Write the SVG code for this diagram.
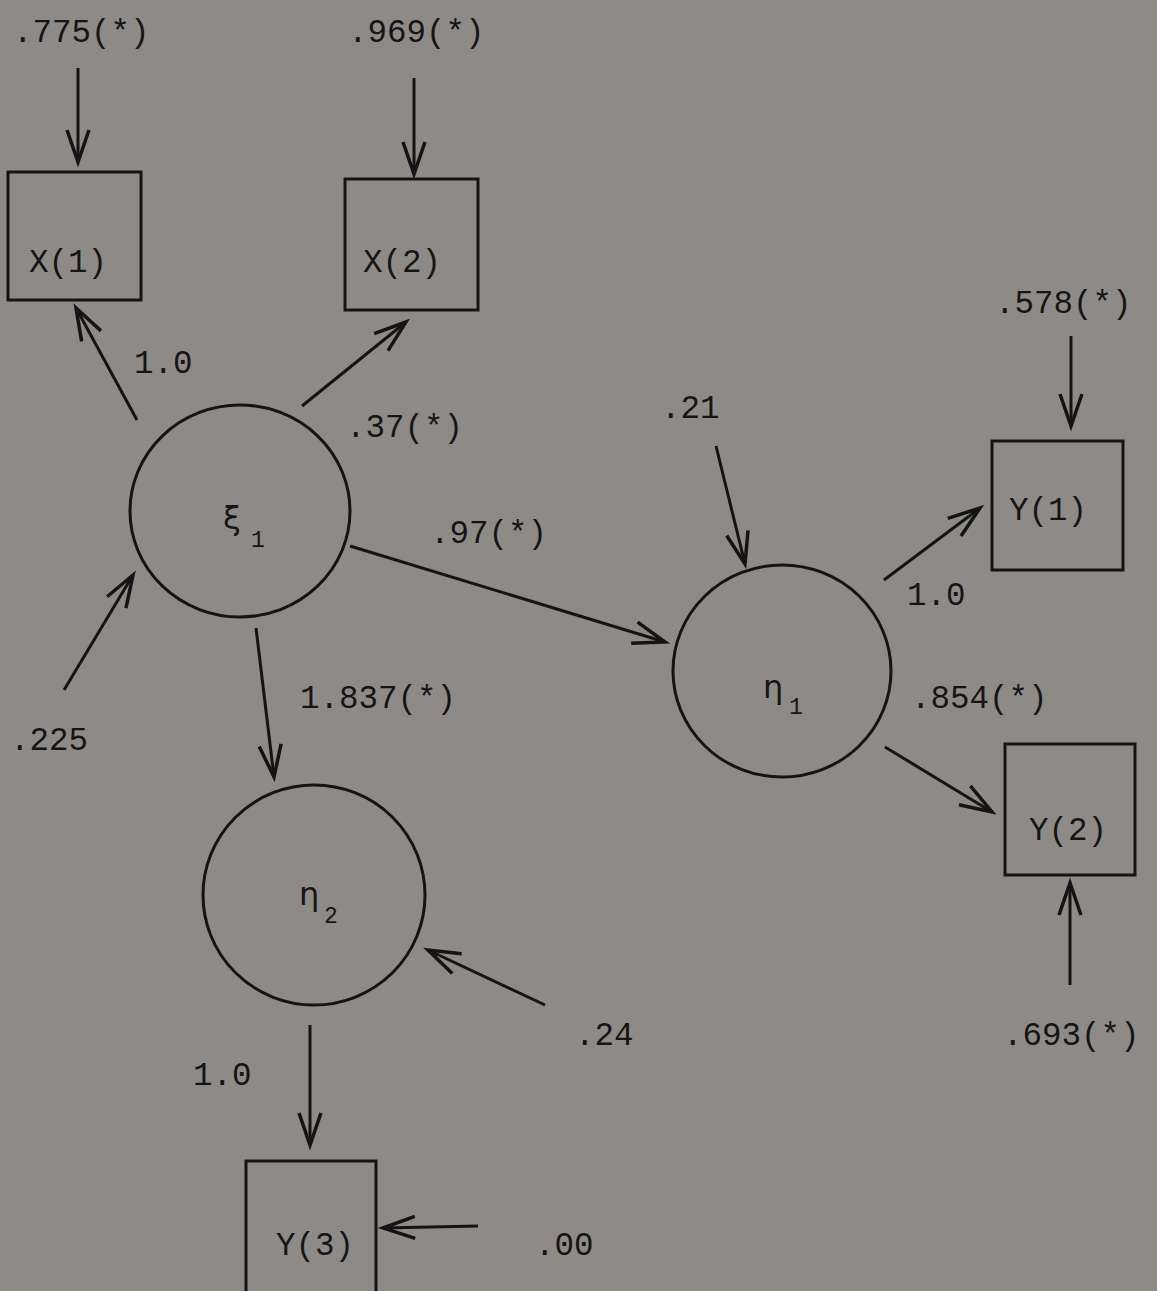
<svg xmlns="http://www.w3.org/2000/svg" width="1157" height="1291" viewBox="0 0 1157 1291">
<style>
.bg{fill:#8e8b86}
.node{fill:none;stroke:#141414;stroke-width:3}
.lbl{font-family:"Liberation Mono",monospace;font-size:32.5px;fill:#151515}
.gk{font-family:"DejaVu Sans",sans-serif;font-size:32px;fill:#151515}
.sub{font-family:"Liberation Mono",monospace;font-size:23px;fill:#151515}
.edge{fill:none;stroke:#141414;stroke-width:3;marker-end:url(#ah)}
</style>
<defs>
<marker id="ah" markerUnits="userSpaceOnUse" markerWidth="40" markerHeight="30" refX="0" refY="0" viewBox="-34 -15 40 30" orient="auto" overflow="visible">
<path d="M-32,-11 L0,0 L-32,11" fill="none" stroke="#141414" stroke-width="3.5" stroke-linejoin="miter"/>
</marker>
</defs>
<rect class="bg" x="0" y="0" width="1157" height="1291"/>

<g id="connectors">
<line class="edge" x1="78" y1="68" x2="78" y2="162"/>
<line class="edge" x1="414" y1="78" x2="414" y2="174"/>
<line class="edge" x1="137" y1="420" x2="76" y2="308"/>
<line class="edge" x1="302" y1="406" x2="406" y2="322"/>
<line class="edge" x1="350" y1="546" x2="665" y2="642"/>
<line class="edge" x1="716" y1="446" x2="745" y2="564"/>
<line class="edge" x1="64" y1="690" x2="133" y2="575"/>
<line class="edge" x1="256" y1="628" x2="274" y2="777"/>
<line class="edge" x1="884" y1="580" x2="980" y2="508"/>
<line class="edge" x1="1071" y1="336" x2="1071" y2="426"/>
<line class="edge" x1="885" y1="747" x2="992" y2="812"/>
<line class="edge" x1="1070" y1="985" x2="1070" y2="883"/>
<line class="edge" x1="545" y1="1005" x2="428" y2="950"/>
<line class="edge" x1="310" y1="1025" x2="310" y2="1145"/>
<line class="edge" x1="478" y1="1226" x2="383" y2="1228"/>
</g>

<g id="X1"><rect class="node" x="8" y="172" width="133" height="128"/><text class="lbl" x="29" y="272">X(1)</text></g>
<g id="X2"><rect class="node" x="345" y="179" width="133" height="131"/><text class="lbl" x="363" y="272">X(2)</text></g>
<g id="Y1"><rect class="node" x="992" y="441" width="131" height="129"/><text class="lbl" x="1009" y="520">Y(1)</text></g>
<g id="Y2"><rect class="node" x="1005" y="744" width="130" height="131"/><text class="lbl" x="1029" y="840">Y(2)</text></g>
<g id="Y3"><rect class="node" x="246" y="1161" width="130" height="134"/><text class="lbl" x="276" y="1255">Y(3)</text></g>

<g id="xi1"><ellipse class="node" cx="240" cy="511" rx="110" ry="106"/><text class="gk" x="223" y="529">ξ</text><text class="sub" x="251" y="547">1</text></g>
<g id="eta1"><ellipse class="node" cx="782" cy="671" rx="109" ry="106"/><text class="gk" x="763" y="698">η</text><text class="sub" x="789" y="714">1</text></g>
<g id="eta2"><ellipse class="node" cx="314" cy="895" rx="111" ry="110"/><text class="gk" x="299" y="905">η</text><text class="sub" x="324" y="923">2</text></g>

<g id="labels">
<text class="lbl" x="13" y="42">.775(*)</text>
<text class="lbl" x="348" y="42">.969(*)</text>
<text class="lbl" x="134" y="373">1.0</text>
<text class="lbl" x="346" y="437">.37(*)</text>
<text class="lbl" x="661" y="418">.21</text>
<text class="lbl" x="995" y="313">.578(*)</text>
<text class="lbl" x="430" y="543">.97(*)</text>
<text class="lbl" x="907" y="605">1.0</text>
<text class="lbl" x="300" y="708">1.837(*)</text>
<text class="lbl" x="911" y="708">.854(*)</text>
<text class="lbl" x="10" y="750">.225</text>
<text class="lbl" x="575" y="1045">.24</text>
<text class="lbl" x="1003" y="1045">.693(*)</text>
<text class="lbl" x="193" y="1085">1.0</text>
<text class="lbl" x="535" y="1255">.00</text>
</g>
</svg>
